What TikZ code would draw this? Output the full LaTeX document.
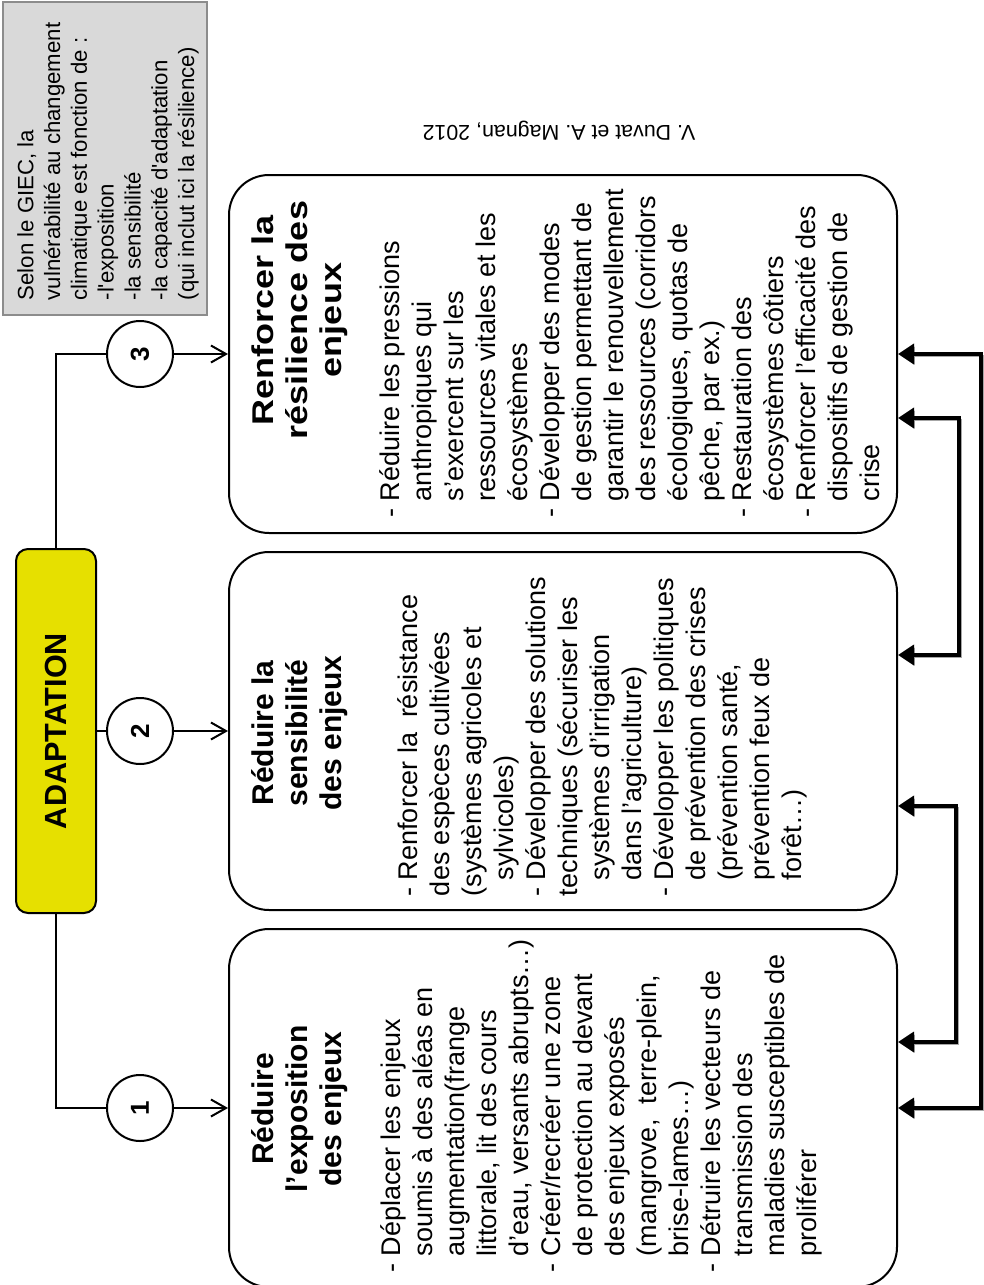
\documentclass[tikz,border=0pt]{standalone}
\usepackage{fontspec}
\setmainfont{Liberation Sans}
\usepackage{xcolor}
\usepackage{graphicx}
\usepackage{tikz}
\usetikzlibrary{positioning,arrows.meta}

\definecolor{adaptyellow}{RGB}{230,224,0}
\definecolor{giecgray}{RGB}{217,217,217}
\newcommand{\dashcol}[1]{\multicolumn{2}{@{}l@{}}{#1}}

\begin{document}
\begin{tikzpicture}[x=0.5pt, y=-0.5pt, node distance = 8.5pt, line width=1pt, >={Straight Barb[length=7.5pt,width=8.5pt]}]
            \tikzstyle{box} = [draw, rounded corners=20pt, minimum width=334pt, minimum height=179pt, inner sep=0pt]
            \tikzstyle{num} = [draw, circle, minimum size=33pt, inner sep=0pt, font=\fontsize{13}{15}\selectfont\bfseries]
            \tikzstyle{title} = [rotate=90, anchor=base, inner sep=0pt, font=\fontsize{15}{17}\selectfont\bfseries]
            \tikzstyle{items} = [rotate=90, anchor=base west, inner sep=0pt, font=\fontsize{13.5}{16}\selectfont]
            \tikzstyle{feedback} = [line width=1.8pt, {Triangle[length=8pt,width=10pt]}-{Triangle[length=8pt,width=10pt]}, preaction={draw=black!35, transform canvas={shift={(0.8pt,-0.8pt)}}}]

            \useasboundingbox (0,0) rectangle (984,1285);

            \node [draw=black!45, fill=giecgray, minimum width=102pt, minimum height=156.5pt] (G) at (105,158.5) {};
            \node [rotate=90, align=left, inner sep=0pt, font=\fontsize{11.1}{13.4}\selectfont] (GT) at ([xshift=1.5pt, yshift=-1.5pt]G.center) {Selon le GIEC, la\\vulnérabilité au changement\\climatique est fonction de :\\-l\textquotesingle exposition\\-la sensibilité\\-la capacité d\textquotesingle adaptation\\(qui inclut ici la résilience)};

            \node [rotate=180, font=\fontsize{10.7}{12}\selectfont] (R) at (559,131) {V. Duvat et A. Magnan, 2012};

            \node [draw, fill=adaptyellow, rounded corners=6pt, minimum width=40pt, minimum height=182pt] (A) at (56,731) {};
            \node [rotate=90, inner sep=0pt, font=\fontsize{15.3}{17}\selectfont\bfseries] (AT) at (A) {ADAPTATION};

            \node [box] (B3) at (563,354) {};
            \node [box, below = of B3] (B2) {};
            \node [box, below = of B2] (B1) {};

            \node [num, left = 27pt of B3] (C3) {\rotatebox{90}{3}};
            \node [num, left = 27pt of B2] (C2) {\rotatebox{90}{2}};
            \node [num, left = 27pt of B1] (C1) {\rotatebox{90}{1}};

            \node [title] (T3) at ([xshift=22.5pt, yshift=17pt]B3.west) {\scalebox{1.2}[1]{\begin{tabular}[t]{@{}c@{}}Renforcer la\\résilience des\\enjeux\end{tabular}}};
            \node [title] (T2) at ([xshift=22.5pt, yshift=-1pt]B2.west) {\begin{tabular}[t]{@{}c@{}}Réduire la\\sensibilité\\des enjeux\end{tabular}};
            \node [title] (T1) at ([xshift=22.5pt, yshift=-0.5pt]B1.west) {\begin{tabular}[t]{@{}c@{}}Réduire\\l’exposition\\des enjeux\end{tabular}};

            \node [items] (L3) at ([xshift=85.5pt, yshift=-82pt]B3.west) {\begin{tabular}[t]{@{}l@{\hspace{3.5pt}}l@{}}
                - & Réduire les pressions\\
                  & anthropiques qui\\
                  & s’exercent sur les\\
                  & ressources vitales et les\\
                  & écosystèmes\\
                - & Développer des modes\\
                  & de gestion permettant de\\
                  & garantir le renouvellement\\
                  & des ressources (corridors\\
                  & écologiques, quotas de\\
                  & pêche, par ex.)\\
                - & Restauration des\\
                  & écosystèmes côtiers\\
                - & Renforcer l’efficacité des\\
                  & dispositifs de gestion de\\
                  & crise
            \end{tabular}};

            \node [items] (L2) at ([xshift=94.5pt, yshift=-83pt]B2.west) {\begin{tabular}[t]{@{}l@{\hspace{3.5pt}}l@{}}
                - & Renforcer la~ résistance\\
                \dashcol{des espèces cultivées}\\
                \dashcol{(systèmes agricoles et}\\
                  & sylvicoles)\\
                - & Développer des solutions\\
                \dashcol{techniques (sécuriser les}\\
                  & systèmes d’irrigation\\
                  & dans l’agriculture)\\
                - & Développer les politiques\\
                  & de prévention des crises\\
                  & (prévention santé,\\
                  & prévention feux de\\
                  & forêt…)
            \end{tabular}};

            \node [items] (L1) at ([xshift=86pt, yshift=-82.5pt]B1.west) {\begin{tabular}[t]{@{}l@{\hspace{3.5pt}}l@{}}
                - & Déplacer les enjeux\\
                  & soumis à des aléas en\\
                  & augmentation(frange\\
                  & littorale, lit des cours\\
                  & d’eau, versants abrupts…)\\
                - & Créer/recréer une zone\\
                  & de protection au devant\\
                  & des enjeux exposés\\
                  & (mangrove,~ terre-plein,\\
                  & brise-lames…)\\
                - & Détruire les vecteurs de\\
                  & transmission des\\
                  & maladies susceptibles de\\
                  & proliférer
            \end{tabular}};

            \draw (A.north) |- (C3.west);
            \draw (A.east |- C2.west) -- (C2.west);
            \draw (A.south) |- (C1.west);

            \draw [->] (C3) to (B3);
            \draw [->] (C2) to (B2);
            \draw [->] (C1) to (B1);

            \draw [feedback] (B3.east) -- ++(83,0) |- (B1.east);
            \draw [feedback] ([yshift=-32pt]B3.east) -- ++(61,0) |- ([yshift=38pt]B2.east);
            \draw [feedback] ([yshift=-37.5pt]B2.east) -- ++(58,0) |- ([yshift=33pt]B1.east);
        \end{tikzpicture}
\end{document}
